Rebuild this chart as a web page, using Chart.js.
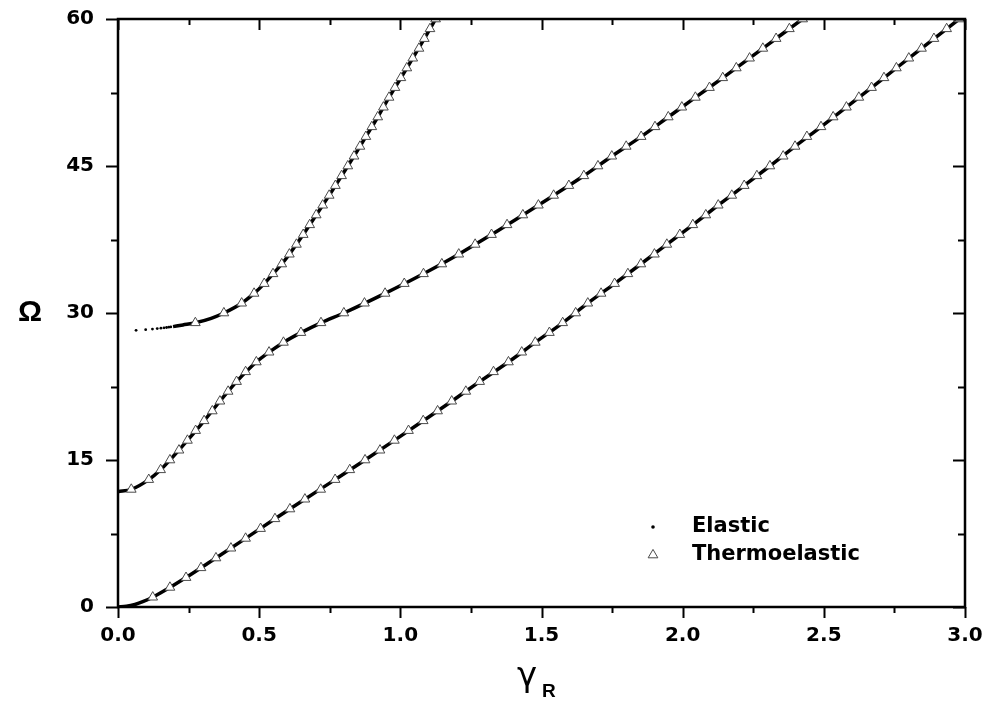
<!DOCTYPE html>
<html>
<head>
<meta charset="utf-8">
<script src="https://cdn.jsdelivr.net/npm/chart.js@4.4.0/dist/chart.umd.min.js"></script>
<style>
  html, body { margin: 0; padding: 0; background: #fff; }
</style>
</head>
<body>
<canvas id="dispersionChart" width="987" height="707"></canvas>
<script>
// ---- thermoelastic branches (triangles), one Omega step per marker ----
const thermoLowOmega = [1, 2, 3, 4, 5, 6, 7, 8, 9, 10, 11, 12, 13, 14, 15, 16, 17, 18, 19, 20,
  21, 22, 23, 24, 25, 26, 27, 28, 29, 30, 31, 32, 33, 34, 35, 36, 37, 38, 39, 40,
  41, 42, 43, 44, 45, 46, 47, 48, 49, 50, 51, 52, 53, 54, 55, 56, 57, 58, 59, 60];
const thermoLowGamma = [0.123, 0.184, 0.241, 0.294, 0.347, 0.400, 0.452, 0.505, 0.556, 0.609,
  0.662, 0.718, 0.769, 0.821, 0.875, 0.928, 0.979, 1.029, 1.081, 1.132,
  1.182, 1.232, 1.281, 1.330, 1.383, 1.430, 1.478, 1.528, 1.575, 1.621,
  1.664, 1.711, 1.759, 1.806, 1.852, 1.900, 1.944, 1.990, 2.036, 2.082,
  2.126, 2.174, 2.218, 2.263, 2.309, 2.356, 2.398, 2.440, 2.490, 2.533,
  2.580, 2.624, 2.669, 2.713, 2.757, 2.801, 2.846, 2.890, 2.935, 2.980];

const thermoMidOmega = [12, 13, 14, 15, 16, 17, 18, 19, 20, 21, 22, 23, 24, 25, 26, 27, 28, 29, 30,
  31, 32, 33, 34, 35, 36, 37, 38, 39, 40, 41, 42, 43, 44, 45, 46, 47, 48, 49, 50,
  51, 52, 53, 54, 55, 56, 57, 58, 59, 60];
const thermoMidGamma = [0.047, 0.109, 0.151, 0.184, 0.216, 0.246, 0.275, 0.305, 0.334, 0.361,
  0.390, 0.420, 0.452, 0.490, 0.535, 0.586, 0.648, 0.719, 0.800,
  0.873, 0.946, 1.014, 1.082, 1.147, 1.207, 1.265, 1.323, 1.378, 1.434,
  1.489, 1.543, 1.597, 1.650, 1.700, 1.749, 1.800, 1.853, 1.902, 1.949,
  1.997, 2.045, 2.095, 2.142, 2.190, 2.237, 2.284, 2.331, 2.378, 2.425];

const thermoTopOmega = [29, 30, 31, 32, 33, 34, 35, 36, 37, 38, 39, 40, 41, 42, 43, 44,
  45, 46, 47, 48, 49, 50, 51, 52, 53, 54, 55, 56, 57, 58, 59, 60];
const thermoTopGamma = [0.274, 0.375, 0.438, 0.482, 0.518, 0.549, 0.580, 0.607, 0.632, 0.656,
  0.679, 0.702, 0.725, 0.748, 0.770, 0.792, 0.814, 0.836, 0.857, 0.878,
  0.899, 0.920, 0.940, 0.960, 0.981, 1.002, 1.023, 1.044, 1.066, 1.085,
  1.105, 1.125];

// ---- elastic branches (solid dotted curves) ----
const elasticLowGamma = [0, 0.03, 0.06, 0.09, 0.123, 0.184, 0.241, 0.347, 0.452, 0.556, 0.662,
  0.769, 0.875, 0.979, 1.081, 1.182, 1.281, 1.383, 1.478, 1.575, 1.664, 1.759,
  1.852, 1.944, 2.036, 2.126, 2.218, 2.309, 2.398, 2.490, 2.580, 2.669, 2.757,
  2.846, 2.935, 3.0];
const elasticLowOmega = [0, 0.07, 0.26, 0.57, 1, 2, 3, 5, 7, 9, 11, 13, 15, 17, 19, 21, 23, 25,
  27, 29, 31, 33, 35, 37, 39, 41, 43, 45, 47, 49, 51, 53, 55, 57, 59, 60.45];

const elasticMidGamma = [0, 0.047, 0.109, 0.151, 0.184, 0.246, 0.305, 0.361, 0.420, 0.490, 0.535,
  0.586, 0.648, 0.719, 0.800, 0.946, 1.082, 1.207, 1.323, 1.434, 1.543, 1.650,
  1.749, 1.853, 1.949, 2.045, 2.142, 2.237, 2.331, 2.425, 2.45];
const elasticMidOmega = [11.77, 12, 13, 14, 15, 17, 19, 21, 23, 25, 26, 27, 28, 29, 30, 32, 34,
  36, 38, 40, 42, 44, 46, 48, 50, 52, 54, 56, 58, 60, 60.5];

// loose dots where the upper branch starts
const elasticTopStartGamma = [0.064, 0.098, 0.122, 0.139, 0.152, 0.163, 0.172, 0.180, 0.187];
const elasticTopStartOmega = [28.23, 28.30, 28.36, 28.41, 28.45, 28.49, 28.52, 28.55, 28.58];

const elasticTopGamma = [0.195, 0.23, 0.274, 0.33, 0.375, 0.438, 0.482, 0.518, 0.549, 0.580,
  0.607, 0.656, 0.702, 0.748, 0.792, 0.836, 0.878, 0.920, 0.960, 1.002, 1.044,
  1.085, 1.125, 1.135];
const elasticTopOmega = [28.61, 28.78, 29, 29.45, 30, 31, 32, 33, 34, 35, 36, 38, 40, 42, 44, 46,
  48, 50, 52, 54, 56, 58, 60, 60.5];

const xTicks = [0, 0.5, 1.0, 1.5, 2.0, 2.5, 3.0];
const yTicks = [0, 15, 30, 45, 60];

function punti(gx, oy) {
  return gx.map((g, i) => ({ x: g, y: oy[i] }));
}

function serieElastica(gx, oy, linea) {
  return {
    label: "Elastic",
    data: punti(gx, oy),
    showLine: linea,
    borderColor: "#000",
    backgroundColor: "#000",
    borderWidth: 3.5,
    pointRadius: linea ? 0 : 1.4,
    pointBorderWidth: 0,
    cubicInterpolationMode: "monotone",
    clip: 0,
    order: 2
  };
}

function serieTermo(gx, oy) {
  return {
    label: "Thermoelastic",
    data: punti(gx, oy),
    showLine: false,
    pointStyle: "triangle",
    pointRadius: 5.6,
    backgroundColor: "#fff",
    borderColor: "#4a4a4a",
    borderWidth: 1,
    clip: 0,
    order: 1
  };
}

const FONT_TICK = { family: "'DejaVu Sans', sans-serif", size: 20, weight: "bold" };

// frame, minor/major ticks, axis titles and the legend box
const cornice = {
  id: "cornice",
  afterDraw(chart) {
    const { ctx, chartArea: a, scales } = chart;
    const x = scales.x;
    const y = scales.y;
    ctx.save();
    ctx.strokeStyle = "#000";
    ctx.lineCap = "butt";

    ctx.lineWidth = 2;
    ctx.beginPath();
    for (let k = 0; k <= 12; k++) {
      const px = Math.round(x.getPixelForValue(k * 0.25)) + 0.5;
      const len = k % 2 === 0 ? 11 : 6;
      ctx.moveTo(px, a.bottom);
      ctx.lineTo(px, a.bottom + len);
      ctx.moveTo(px, a.top);
      ctx.lineTo(px, a.top + len);
    }
    for (let k = 0; k <= 8; k++) {
      const py = Math.round(y.getPixelForValue(k * 7.5)) + 0.5;
      const len = k % 2 === 0 ? 12 : 7;
      ctx.moveTo(a.left, py);
      ctx.lineTo(a.left - len, py);
      ctx.moveTo(a.right, py);
      ctx.lineTo(a.right - len, py);
    }
    ctx.stroke();

    ctx.lineWidth = 2.5;
    ctx.strokeRect(a.left, a.top, a.right - a.left, a.bottom - a.top);

    // axis titles
    ctx.fillStyle = "#000";
    ctx.textBaseline = "middle";
    ctx.textAlign = "center";
    ctx.font = "bold 30px 'Liberation Sans', sans-serif";
    ctx.fillText("\u03A9", 30, (a.top + a.bottom) / 2);

    ctx.textAlign = "left";
    ctx.textBaseline = "alphabetic";
    ctx.font = "34px 'DejaVu Sans', sans-serif";
    ctx.fillText("\u03B3", 517, 686);
    ctx.font = "bold 19px 'Liberation Sans', sans-serif";
    ctx.fillText("R", 542, 697);

    // legend
    const lx = a.right - 312;
    const ly1 = a.bottom - 80;
    const ly2 = a.bottom - 52;
    ctx.beginPath();
    ctx.arc(lx, ly1, 1.8, 0, Math.PI * 2);
    ctx.fill();
    ctx.beginPath();
    ctx.moveTo(lx, ly2 - 5.6);
    ctx.lineTo(lx + 4.85, ly2 + 2.8);
    ctx.lineTo(lx - 4.85, ly2 + 2.8);
    ctx.closePath();
    ctx.fillStyle = "#fff";
    ctx.fill();
    ctx.lineWidth = 1;
    ctx.strokeStyle = "#4a4a4a";
    ctx.stroke();

    ctx.fillStyle = "#000";
    ctx.textBaseline = "middle";
    ctx.font = "bold 21px 'DejaVu Sans', sans-serif";
    ctx.fillText("Elastic", lx + 39, ly1);
    ctx.fillText("Thermoelastic", lx + 39, ly2);
    ctx.restore();
  }
};

new Chart(document.getElementById("dispersionChart"), {
  type: "scatter",
  data: {
    datasets: [
      serieTermo(thermoLowGamma, thermoLowOmega),
      serieTermo(thermoMidGamma, thermoMidOmega),
      serieTermo(thermoTopGamma, thermoTopOmega),
      serieElastica(elasticLowGamma, elasticLowOmega, true),
      serieElastica(elasticMidGamma, elasticMidOmega, true),
      serieElastica(elasticTopGamma, elasticTopOmega, true),
      serieElastica(elasticTopStartGamma, elasticTopStartOmega, false)
    ]
  },
  options: {
    responsive: false,
    animation: false,
    layout: { padding: { top: 19, right: 22, left: 0, bottom: 0 } },
    plugins: {
      legend: { display: false },
      tooltip: { enabled: false }
    },
    scales: {
      x: {
        type: "linear",
        min: 0,
        max: 3,
        afterBuildTicks: scale => { scale.ticks = xTicks.map(v => ({ value: v })); },
        afterFit: scale => { scale.height = 100; },
        // tick marks are drawn by the plugin; tickLength only spaces the labels
        grid: { display: false, drawTicks: true, tickLength: 14 },
        border: { display: false },
        ticks: {
          color: "#000",
          font: FONT_TICK,
          padding: 3,
          maxRotation: 0,
          autoSkip: false,
          callback: v => Number(v).toFixed(1)
        }
      },
      y: {
        type: "linear",
        min: 0,
        max: 60,
        afterBuildTicks: scale => { scale.ticks = yTicks.map(v => ({ value: v })); },
        afterFit: scale => { scale.width = 118; },
        grid: { display: false, drawTicks: true, tickLength: 21 },
        border: { display: false },
        ticks: {
          color: "#000",
          font: FONT_TICK,
          padding: 3,
          autoSkip: false,
          callback: v => String(v)
        }
      }
    }
  },
  plugins: [cornice]
});
</script>
</body>
</html>
